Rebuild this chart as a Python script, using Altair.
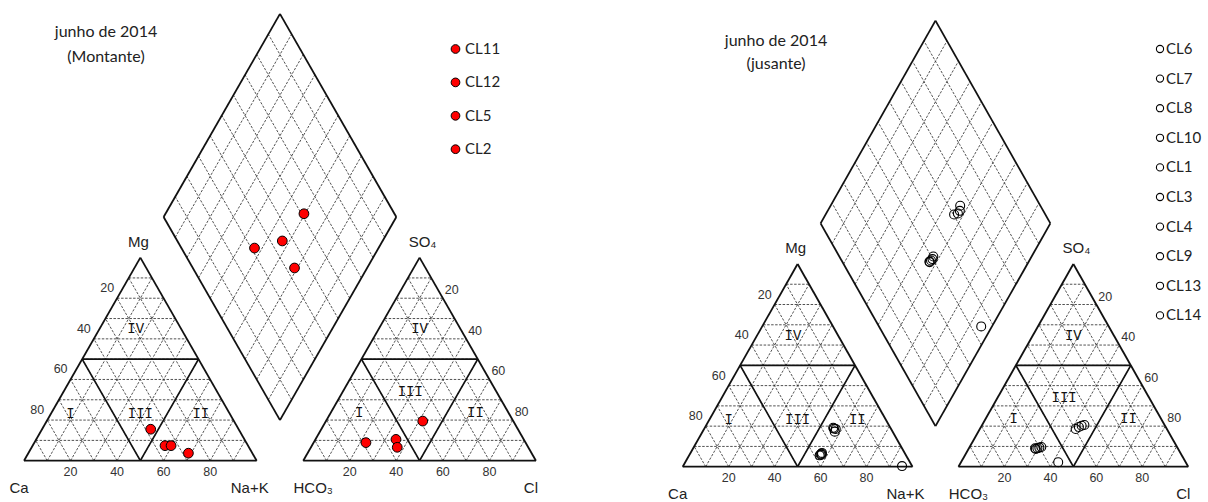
import altair as alt
import numpy as np
import pandas as pd

# ---------------- ionic composition of each sample (% of meq/L) ----------------
# upstream sampling points
mont_names = ["CL11", "CL12", "CL5", "CL2"]
mont_ca = [37.8, 35.7, 33.1, 27.5]
mont_mg = [15.5, 7.4, 7.4, 3.7]
mont_nak = [46.7, 56.9, 59.5, 68.8]
mont_hco3 = [68.6, 54.9, 38.9, 56.3]
mont_so4 = [8.9, 10.5, 19.5, 6.6]
mont_cl = [22.5, 34.6, 41.6, 37.1]

# downstream sampling points
jus_names = ["CL6", "CL7", "CL8", "CL10", "CL1", "CL3", "CL4", "CL9", "CL13", "CL14"]
jus_ca = [24.9, 24.1, 25.2, 24.8, 37.0, 36.4, 36.6, 36.0, 37.6, 4.4]
jus_mg = [19.2, 18.6, 17.3, 18.8, 6.0, 6.4, 5.9, 6.8, 5.6, 0.3]
jus_nak = [55.9, 57.3, 57.5, 56.4, 57.0, 57.2, 57.5, 57.2, 56.8, 95.3]
jus_hco3 = [39.7, 37.8, 36.3, 34.9, 62.1, 61.1, 60.1, 59.1, 62.0, 55.5]
jus_so4 = [18.6, 19.6, 20.2, 20.6, 9.1, 9.1, 9.4, 9.7, 8.7, 2.2]
jus_cl = [41.7, 42.6, 43.5, 44.5, 28.8, 29.8, 30.5, 31.2, 29.3, 42.3]

tick_values = [20, 40, 60, 80]
zone_names = ["I", "II", "III", "IV"]
cation_names = ["Ca", "Mg", "Na+K"]
anion_names = ["HCO₃", "SO₄", "Cl"]

# ---------------- Piper layout (triangle side = 100 units) ----------------
SQ = np.sqrt(3) / 2
SIDE, GAP = 100.0, 20.0
AX0 = SIDE + GAP                 # left corner of the anion triangle
BX, BY = SIDE + GAP / 2, GAP * SQ  # bottom vertex of the diamond

# label anchors of the hydrochemical zones (triangle-local units)
zone_xy_cat = [(20, 20), (76, 20), (50, 20), (48, 56)]
zone_xy_an = [(24, 20.5), (74, 20.2), (46, 29.5), (50, 56)]


def tri_pt(x0, right, top):
    return x0 + SIDE * (right + top / 2), SIDE * SQ * top


def dia_pt(a, c):
    return BX + SIDE / 2 * (a - c), BY + SIDE * SQ * (a + c)


def seg_frames():
    grid, zones, frame = [], [], []
    for x0 in (0.0, AX0):
        for k in range(1, 10):
            f = k / 10
            grid.append((*tri_pt(x0, 0, f), *tri_pt(x0, 1 - f, f)))
            grid.append((*tri_pt(x0, f, 0), *tri_pt(x0, f, 1 - f)))
            grid.append((*tri_pt(x0, 1 - f, 0), *tri_pt(x0, 0, 1 - f)))
        corners = [tri_pt(x0, 0, 0), tri_pt(x0, 1, 0), tri_pt(x0, 0, 1)]
        for i in range(3):
            frame.append((*corners[i], *corners[(i + 1) % 3]))
        zones += [
            (*tri_pt(x0, 0, 0.5), *tri_pt(x0, 0.5, 0.5)),
            (*tri_pt(x0, 0, 0.5), *tri_pt(x0, 0.5, 0)),
            (*tri_pt(x0, 0.5, 0), *tri_pt(x0, 0.5, 0.5)),
        ]
    for k in range(1, 10):
        f = k / 10
        grid.append((*dia_pt(f, 0), *dia_pt(f, 1)))
        grid.append((*dia_pt(0, f), *dia_pt(1, f)))
    dc = [dia_pt(0, 0), dia_pt(1, 0), dia_pt(1, 1), dia_pt(0, 1)]
    for i in range(4):
        frame.append((*dc[i], *dc[(i + 1) % 4]))
    cols = ["x", "y", "x2", "y2"]
    return (pd.DataFrame(grid, columns=cols), pd.DataFrame(zones, columns=cols),
            pd.DataFrame(frame, columns=cols))


GRID, ZONES, FRAME = seg_frames()
LABEL_FONT = "Liberation Sans"
TEXT_FONT = "Lato"


def piper_panel(names, ca, mg, nak, hco3, so4, cl, titles, frame, hollow, legend):
    ox, oy, kx, ky = frame          # pixel of the cation-triangle corner, px per unit
    W, H = 604, 502
    xs = alt.Scale(domain=[-ox / kx, (W - ox) / kx], nice=False, zero=False)
    ys = alt.Scale(domain=[(oy - H) / ky, oy / ky], nice=False, zero=False)

    def X(f="x"):
        return alt.X(f"{f}:Q", scale=xs, axis=None)

    def Y(f="y"):
        return alt.Y(f"{f}:Q", scale=ys, axis=None)

    def unit(px, py):
        return (px - ox) / kx, (oy - py) / ky

    def rules(df, **kw):
        return alt.Chart(df).mark_rule(**kw).encode(x=X(), y=Y(), x2="x2:Q", y2="y2:Q")

    def texts(rows, **kw):
        df = pd.DataFrame(rows, columns=["x", "y", "t"])
        return alt.Chart(df).mark_text(**kw).encode(x=X(), y=Y(), text="t:N")

    layers = [
        rules(GRID, color="#333333", strokeWidth=0.85, strokeDash=[2.5, 1.5]),
        rules(ZONES, color="#111", strokeWidth=1.7),
        rules(FRAME, color="#111", strokeWidth=1.8),
    ]

    tick_kw = dict(font=LABEL_FONT, fontSize=12.5, color="#333", baseline="middle")
    layers += [
        texts([(*tri_pt(0, 0, 1 - v / 100), str(v)) for v in tick_values],
              align="right", dx=-3, dy=-10, **tick_kw),
        texts([(*tri_pt(0, v / 100, 0), str(v)) for v in tick_values]
              + [(*tri_pt(AX0, v / 100, 0), str(v)) for v in tick_values],
              align="center", dy=11, **tick_kw),
        texts([(*tri_pt(AX0, v / 100, 1 - v / 100), str(v)) for v in tick_values],
              align="left", dx=2, dy=-8, **tick_kw),
    ]

    ion_kw = dict(font=LABEL_FONT, fontSize=15, color="#222", baseline="middle", align="center")
    ion_spec = [
        (tri_pt(0, 0, 0), cation_names[0], -5, 27),
        (tri_pt(0, 0, 1), cation_names[1], -2, -16),
        (tri_pt(0, 1, 0), cation_names[2], -7, 27),
        (tri_pt(AX0, 0, 0), anion_names[0], 10, 27),
        (tri_pt(AX0, 0, 1), anion_names[1], 3, -16),
        (tri_pt(AX0, 1, 0), anion_names[2], -5, 27),
    ]
    for (px, py), name, ddx, ddy in ion_spec:
        layers.append(texts([(px, py, name)], dx=ddx, dy=ddy, **ion_kw))

    zone_rows = [(zx, zy, n) for n, (zx, zy) in zip(zone_names, zone_xy_cat)]
    zone_rows += [(AX0 + zx, zy, n) for n, (zx, zy) in zip(zone_names, zone_xy_an)]
    layers.append(texts(zone_rows, font="Liberation Mono", fontSize=14, color="#111",
                        align="center", baseline="middle"))

    samples = pd.DataFrame(dict(name=names, ca=ca, mg=mg, nak=nak,
                                hco3=hco3, so4=so4, cl=cl))
    base = alt.Chart(samples).transform_calculate(
        cx="datum.nak + datum.mg / 2",
        cy=f"datum.mg * {SQ}",
        ax=f"{AX0} + datum.cl + datum.so4 / 2",
        ay=f"datum.so4 * {SQ}",
        mx=f"{BX} + 0.5 * ((datum.so4 + datum.cl) - (datum.ca + datum.mg))",
        my=f"{BY} + {SQ} * ((datum.so4 + datum.cl) + (datum.ca + datum.mg))",
    )
    if hollow:
        mk = dict(shape="circle", filled=False, color="black", strokeWidth=1.1,
                  size=80, opacity=1)
        lmk = dict(shape="circle", filled=False, color="black", strokeWidth=1.1,
                   size=52, opacity=1)
    else:
        mk = dict(shape="circle", filled=True, fill="#ff0000", stroke="black",
                  strokeWidth=1, size=95, opacity=1)
        lmk = dict(shape="circle", filled=True, fill="#ff0000", stroke="black",
                   strokeWidth=1, size=76, opacity=1)
    for fx, fy in (("cx", "cy"), ("ax", "ay"), ("mx", "my")):
        layers.append(base.mark_point(**mk).encode(x=X(fx), y=Y(fy)))

    # legend: marker column and label column
    mpx, tpx, y0, step = legend
    leg = pd.DataFrame({
        "t": names,
        "x": [unit(mpx, 0)[0]] * len(names),
        "x_t": [unit(tpx, 0)[0]] * len(names),
        "y": [unit(0, y0 + step * i)[1] for i in range(len(names))],
    })
    layers.append(alt.Chart(leg).mark_point(**lmk).encode(x=X(), y=Y()))
    layers.append(alt.Chart(leg).mark_text(font=TEXT_FONT, fontSize=15, color="#222",
                                           align="left", baseline="middle")
                  .encode(x=X("x_t"), y=Y(), text="t:N"))

    (tx, ty1, ty2) = titles[2]
    layers.append(texts([(*unit(tx, ty1), titles[0]), (*unit(tx, ty2), titles[1])],
                        font=TEXT_FONT, fontSize=16, color="#222",
                        align="center", baseline="middle"))

    return alt.layer(*layers).properties(width=W, height=H)


left = piper_panel(mont_names, mont_ca, mont_mg, mont_nak, mont_hco3, mont_so4, mont_cl,
                   ("junho de 2014", "(Montante)", (106, 31.7, 56.7)),
                   (24.0, 460.7, 2.327, 2.345), hollow=False,
                   legend=(455.5, 465, 49, 33.4))
right = piper_panel(jus_names, jus_ca, jus_mg, jus_nak, jus_hco3, jus_so4, jus_cl,
                    ("junho de 2014", "(jusante)", (172, 41, 63.5)),
                    (78.7, 466.7, 2.298, 2.341), hollow=True,
                    legend=(556, 562, 49, 29.6))

chart = (
    alt.hconcat(left, right, spacing=0)
    .properties(padding=0, background="white")
    .configure_view(stroke=None)
)

chart.save("out.html", embed_options={"renderer": "svg", "actions": False})
